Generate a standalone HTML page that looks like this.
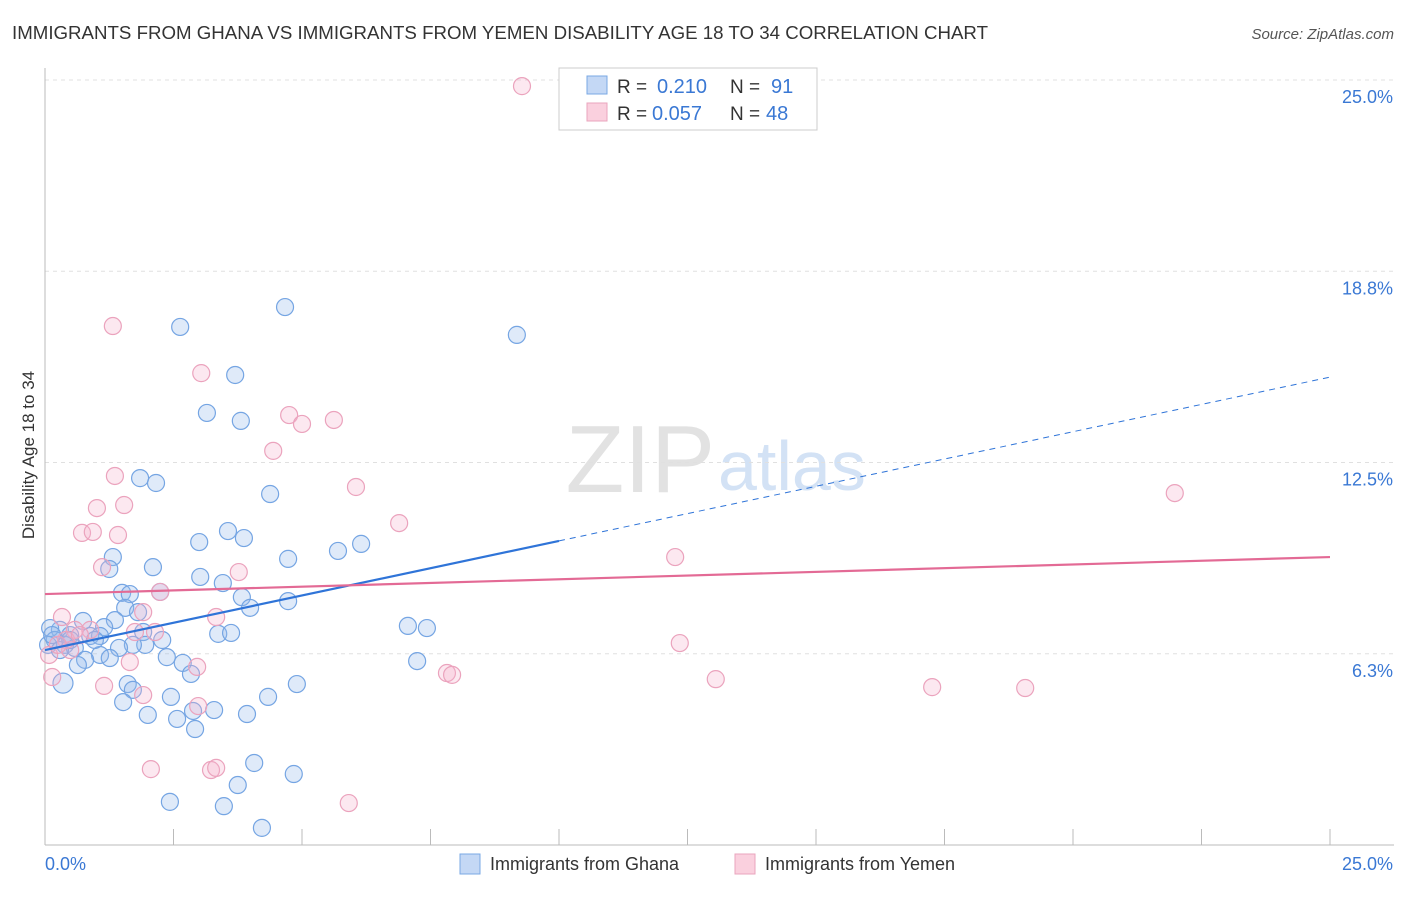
<!DOCTYPE html>
<html><head><meta charset="utf-8"><style>
body{margin:0;background:#fff;font-family:"Liberation Sans",sans-serif;}
svg text{font-family:"Liberation Sans",sans-serif;}
</style></head><body>
<svg id="c" width="1406" height="892" xmlns="http://www.w3.org/2000/svg">
<text x="12" y="39" font-size="18" fill="#333" textLength="976" lengthAdjust="spacingAndGlyphs">IMMIGRANTS FROM GHANA VS IMMIGRANTS FROM YEMEN DISABILITY AGE 18 TO 34 CORRELATION CHART</text>
<text x="1394" y="39" font-size="15" fill="#555" font-style="italic" text-anchor="end">Source: ZipAtlas.com</text>
<text x="715" y="492" font-size="96" fill="#e2e2e2" font-family="Liberation Serif" text-anchor="end">ZIP</text>
<text x="718" y="490" font-size="70" fill="#d3e2f5">atlas</text>
<text x="34" y="455" font-size="17" fill="#333" text-anchor="middle" transform="rotate(-90 34 455)">Disability Age 18 to 34</text>
<g id="grid"></g><g id="pts"></g><g id="lines"></g>
<g>
<rect x="559" y="68" width="258" height="62" fill="#fff" stroke="#ccc"/>
<rect x="587" y="76" width="20" height="18" fill="#c4d8f5" stroke="#7aa8e4"/>
<rect x="587" y="103" width="20" height="18" fill="#fad0de" stroke="#eaa5bd"/>
<text x="617" y="93" font-size="19" fill="#333">R =</text>
<text x="657" y="93" font-size="20" fill="#3a78d4">0.210</text>
<text x="730" y="93" font-size="19" fill="#333">N =</text>
<text x="771" y="93" font-size="20" fill="#3a78d4">91</text>
<text x="617" y="120" font-size="19" fill="#333">R =</text>
<text x="652" y="120" font-size="20" fill="#3a78d4">0.057</text>
<text x="730" y="120" font-size="19" fill="#333">N =</text>
<text x="766" y="120" font-size="20" fill="#3a78d4">48</text>
</g>
<g>
<rect x="460" y="854" width="20" height="20" fill="#c4d8f5" stroke="#7aa8e4"/>
<text x="490" y="870" font-size="18" fill="#333">Immigrants from Ghana</text>
<rect x="735" y="854" width="20" height="20" fill="#fad0de" stroke="#eaa5bd"/>
<text x="765" y="870" font-size="18" fill="#333">Immigrants from Yemen</text>
</g>
<text x="45" y="870" font-size="18" fill="#3a78d4">0.0%</text>
<text x="1393" y="870" font-size="18" fill="#3a78d4" text-anchor="end">25.0%</text>
</svg>
<script>
const yTicks=[25.0,18.8,12.5,6.3];
const yTickVals=[25,18.75,12.5,6.25];
const ghanaX=[4.67,2.63,9.18,3.70,3.15,3.81,1.85,2.16,4.38,3.56,3.00,3.87,1.32,4.73,5.70,6.15,1.25,2.10,3.02,3.46,1.50,1.65,2.24,3.83,4.73,1.56,1.81,3.99,1.36,0.74,1.15,7.06,7.43,0.29,0.10,0.49,0.88,1.07,1.91,2.28,3.37,3.62,1.95,1.71,1.44,0.39,0.58,0.19,0.06,1.07,0.78,2.37,1.26,2.68,0.64,2.84,7.24,0.35,1.61,1.71,4.90,2.45,4.34,1.52,3.29,2.88,2.00,2.57,3.93,2.92,4.07,4.84,3.75,2.43,3.48,4.22,0.29,0.49,0.97,0.14];
const ghanaY=[17.58,16.93,16.67,15.36,14.12,13.86,11.99,11.83,11.47,10.26,9.90,10.03,9.41,9.35,9.61,9.84,9.02,9.08,8.76,8.56,8.24,8.20,8.27,8.10,7.97,7.75,7.61,7.75,7.35,7.32,7.12,7.16,7.09,7.03,7.09,6.86,6.83,6.83,6.96,6.70,6.90,6.93,6.54,6.54,6.44,6.54,6.44,6.70,6.54,6.21,6.05,6.14,6.11,5.95,5.88,5.59,6.01,5.29,5.26,5.07,5.26,4.84,4.84,4.67,4.41,4.38,4.25,4.12,4.28,3.79,2.68,2.32,1.96,1.41,1.27,0.56,6.37,6.70,6.70,6.86];
const yemenX=[9.28,1.32,3.04,4.75,5.00,5.62,4.44,1.36,6.05,1.54,1.01,0.72,0.93,1.42,6.89,21.98,12.26,1.11,3.77,2.24,1.91,3.33,0.33,0.88,2.14,0.58,1.75,12.35,0.08,0.49,1.65,2.96,0.14,7.82,7.92,13.05,17.26,19.07,1.15,1.91,2.98,2.06,3.23,3.33,5.91,0.41,0.68,0.25];
const yemenY=[24.80,16.96,15.42,14.05,13.76,13.89,12.88,12.06,11.70,11.11,11.01,10.20,10.23,10.13,10.52,11.50,9.41,9.08,8.92,8.27,7.61,7.45,7.45,7.03,6.96,7.03,6.96,6.60,6.21,6.37,5.98,5.82,5.49,5.62,5.56,5.42,5.16,5.13,5.20,4.90,4.54,2.48,2.45,2.52,1.37,6.70,6.86,6.54];
const ghanaTrend=[6.37,15.29];
const ghanaSolidEnd=10;
const yemenTrend=[8.20,9.41];
const X0=45,X1=1330,Y0=845,Y25=80;
const sx=v=>X0+(X1-X0)*v/25, sy=v=>Y0-(Y0-Y25)*v/25;
const NS='http://www.w3.org/2000/svg';
function mk(t,a,p){const e=document.createElementNS(NS,t);for(const k in a)e.setAttribute(k,a[k]);p.appendChild(e);return e;}
const grid=document.getElementById('grid');
yTickVals.forEach((v,i)=>{
 const l=mk('line',{x1:X0,x2:1394,y1:sy(v),y2:sy(v),stroke:'#e0e0e0','stroke-dasharray':'4,4'},grid);
 
 
 const t=mk('text',{x:1393,y:sy(v)+23,'font-size':18,fill:'#3a78d4','text-anchor':'end'},grid);
 t.textContent=yTicks[i].toFixed(1)+'%';
 
 
});
const ax=mk('line',{x1:X0,x2:X0,y1:68,y2:Y0,stroke:'#bbb'},grid);


const bx=mk('line',{x1:X0,x2:1394,y1:Y0,y2:Y0,stroke:'#bbb'},grid);


for(let i=0;i<=10;i++){const tk=mk('line',{x1:sx(i*2.5),x2:sx(i*2.5),y1:Y0-16,y2:Y0,stroke:'#bbb'},grid);
 
 }
const pts=document.getElementById('pts');
ghanaX.forEach((x,i)=>{const c=mk('circle',{cx:sx(x),cy:sy(ghanaY[i]),r:(i==57?10:8.5),fill:'rgba(150,185,235,0.3)',stroke:'#75a5e3','stroke-width':1.2},pts);
 
 });
yemenX.forEach((x,i)=>{const c=mk('circle',{cx:sx(x),cy:sy(yemenY[i]),r:8.5,fill:'rgba(245,180,205,0.3)',stroke:'#eba3bd','stroke-width':1.2},pts);
 
 });
const lines=document.getElementById('lines');
const gy=x=>ghanaTrend[0]+(ghanaTrend[1]-ghanaTrend[0])*x/25;
const l1=mk('line',{x1:sx(0),y1:sy(gy(0)),x2:sx(ghanaSolidEnd),y2:sy(gy(ghanaSolidEnd)),stroke:'#2f74d8','stroke-width':2.2},lines);


const l2=mk('line',{x1:sx(ghanaSolidEnd),y1:sy(gy(ghanaSolidEnd)),x2:sx(25),y2:sy(gy(25)),stroke:'#2f74d8','stroke-width':1,'stroke-dasharray':'6,5'},lines);


const l3=mk('line',{x1:sx(0),y1:sy(yemenTrend[0]),x2:sx(25),y2:sy(yemenTrend[1]),stroke:'#e36a95','stroke-width':2.2},lines);


</script>
</body></html>
